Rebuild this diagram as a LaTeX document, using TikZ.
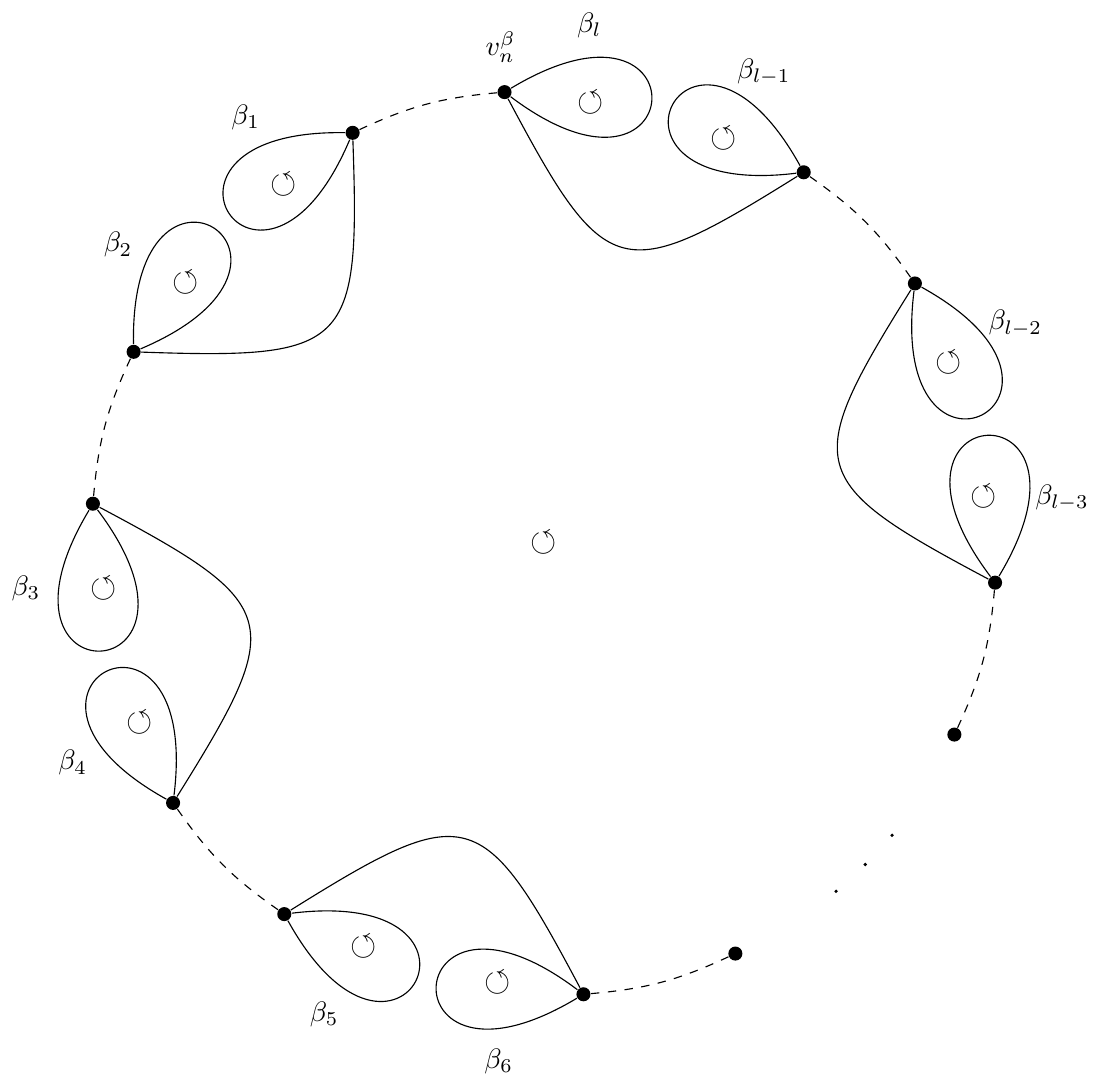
\documentclass[tikz,border=0pt]{standalone}
\usepackage{amsmath, amssymb}
\usepackage{tikz}
\usetikzlibrary{calc}

\begin{document}
\begin{tikzpicture}[
  vert/.style={circle, fill, inner sep=0pt, minimum size=5pt},
  tinydot/.style={circle, fill, inner sep=0pt, minimum size=1.3pt},
  orient/.style={inner sep=0pt, font=\large},
  lab/.style={inner sep=1pt},
  petal/.style={distance=2.84cm},
  bigarc/.style={distance=2.6cm},
  dashgap/.style={dashed, bend right=10}
]
  \useasboundingbox (-6.8,-6.75) rectangle (7.0,6.79);

  % ── vertices on the circle ──
  \node[vert] (bl)  at (95:5.66) {};
  \node[vert] (b1)  at (115:5.66) {};
  \node[vert] (b2)  at (155:5.66) {};
  \node[vert] (b3)  at (175:5.66) {};
  \node[vert] (b4)  at (215:5.66) {};
  \node[vert] (b5)  at (235:5.66) {};
  \node[vert] (b6)  at (275:5.66) {};
  \node[vert] (e6)  at (295:5.66) {};
  \node[vert] (el3) at (335:5.66) {};
  \node[vert] (bl3) at (355:5.66) {};
  \node[vert] (bl2) at (35:5.66) {};
  \node[vert] (bl1) at (55:5.66) {};

  % ── dashed pieces of the circle ──
  \draw[dashgap] (bl) to (b1);
  \draw[dashgap] (b2) to (b3);
  \draw[dashgap] (b4) to (b5);
  \draw[dashgap] (b6) to (e6);
  \draw[dashgap] (el3) to (bl3);
  \draw[dashgap] (bl2) to (bl1);

  % ── big arcs ──
  \draw (b1) to[out=272, in=-2, bigarc] (b2);
  \draw (b3) to[out=332, in=58, bigarc] (b4);
  \draw (b5) to[out=32, in=118, bigarc] (b6);
  \draw (bl3) to[out=152, in=-122, bigarc] (bl2);
  \draw (bl1) to[out=212, in=-62, bigarc] (bl);

  % ── loops ──
  \draw (bl) to[out=31, in=-37, petal] (bl);
  \draw (b1) to[out=247, in=179, petal] (b1);
  \draw (b2) to[out=91, in=23, petal] (b2);
  \draw (b3) to[out=307, in=239, petal] (b3);
  \draw (b4) to[out=151, in=83, petal] (b4);
  \draw (b5) to[out=7, in=299, petal] (b5);
  \draw (b6) to[out=211, in=143, petal] (b6);
  \draw (bl3) to[out=127, in=59, petal] (bl3);
  \draw (bl2) to[out=-29, in=-97, petal] (bl2);
  \draw (bl1) to[out=187, in=119, petal] (bl1);

  % ── orientations ──
  \node[orient] (oc)  at (0,0) {$\circlearrowleft$};
  \node[orient] (ol)  at (84:5.53) {$\circlearrowleft$};
  \node[orient] (o1)  at (126:5.53) {$\circlearrowleft$};
  \node[orient] (o2)  at (144:5.53) {$\circlearrowleft$};
  \node[orient] (o3)  at (186:5.53) {$\circlearrowleft$};
  \node[orient] (o4)  at (204:5.53) {$\circlearrowleft$};
  \node[orient] (o5)  at (246:5.53) {$\circlearrowleft$};
  \node[orient] (o6)  at (264:5.53) {$\circlearrowleft$};
  \node[orient] (ol3) at (6:5.53) {$\circlearrowleft$};
  \node[orient] (ol2) at (24:5.53) {$\circlearrowleft$};
  \node[orient] (ol1) at (66:5.53) {$\circlearrowleft$};

  % ── labels ──
  \node[lab] (tv)  at (95:6.22) {$v_n^\beta$};
  \node[lab] (tl)  at (85:6.5) {$\beta_l$};
  \node[lab] (t1)  at (125:6.5) {$\beta_1$};
  \node[lab] (t2)  at (145:6.5) {$\beta_2$};
  \node[lab] (t3)  at (185:6.5) {$\beta_3$};
  \node[lab] (t4)  at (205:6.5) {$\beta_4$};
  \node[lab] (t5)  at (245:6.5) {$\beta_5$};
  \node[lab] (t6)  at (265:6.5) {$\beta_6$};
  \node[lab] (tl3) at (5:6.5) {$\beta_{l-3}$};
  \node[lab] (tl2) at (25:6.5) {$\beta_{l-2}$};
  \node[lab] (tl1) at (65:6.5) {$\beta_{l-1}$};

  % ── missing part ──
  \node[tinydot] (d1) at (320:5.68) {};
  \node[tinydot] (d2) at (315:5.68) {};
  \node[tinydot] (d3) at (310:5.68) {};
\end{tikzpicture}
\end{document}
